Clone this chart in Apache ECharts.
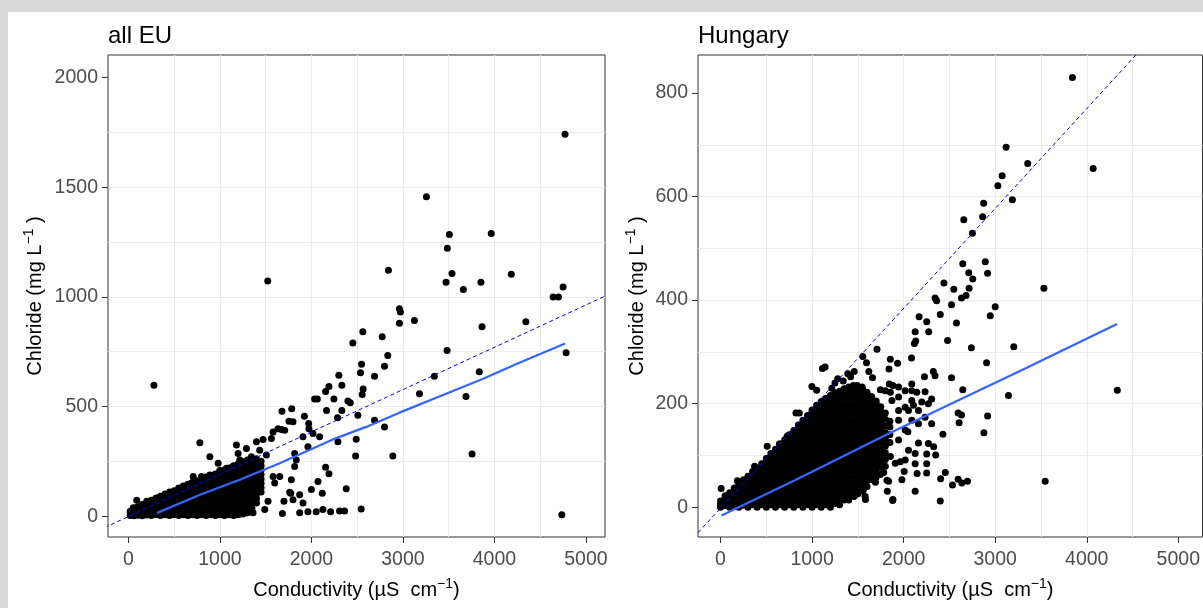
<!DOCTYPE html>
<html>
<head>
<meta charset="utf-8">
<script src="https://cdn.jsdelivr.net/npm/echarts@6/dist/echarts.min.js"></script>
<style>
  html, body { margin: 0; padding: 0; width: 1203px; height: 608px; overflow: hidden; background: #d9d9d9; }
  #chart { position: absolute; left: 8px; top: 12px; width: 1195px; height: 596px; background: #ffffff; }
</style>
</head>
<body>
<div id="chart"></div>
<script>
// ---- Panel titles and axis ticks ----
const panelTitles = ['all EU', 'Hungary'];
const xTicks = [0, 1000, 2000, 3000, 4000, 5000];
const euYTicks = [0, 500, 1000, 1500, 2000];
const huYTicks = [0, 200, 400, 600, 800];

// ---- all EU: individual sites away from the dense core [conductivity, chloride] ----
const euSites = [
  [4772,1741],[3257,1456],[3508,1284],[3486,1221],[3966,1289],[2842,1121],[4185,1103],[1523,1072],
  [3537,1106],[3472,1067],[3853,1067],[3661,1034],[4751,1045],[4642,999],[4700,999],
  [2962,946],[2973,931],[2962,880],[3126,892],[4344,886],[3865,864],[2562,841],[2453,790],[2774,818],
  [2835,733],[3483,755],[4784,745],[2548,693],[2537,654],[2799,683],[2690,638],[3344,638],[3835,659],
  [2300,643],[279,597],[2192,591],[2333,597],[2155,568],[2566,580],[2555,555],[3181,558],[3690,546],
  [2035,534],[2065,534],[2246,534],[2399,525],[2425,517],[2166,482],[2333,482],[2286,449],[2508,460],
  [2690,437],[2799,407],[1679,478],[1785,490],[1923,455],[1755,433],[1799,430],[1970,422],[1973,399],
  [1672,395],[2490,351],[2290,339],[2483,274],[2890,274],[3756,283],[4737,6],
  [781,335],[890,271],[2155,223],[2192,193],[2072,158],[2381,125],[2119,105],[2000,121],[1872,98],
  [2544,33],[2363,23],[2308,23],[2210,20],[2126,30],[2053,20],[1962,20],[1872,15],[1683,12],
  [1700,68],[1799,75],[1908,60],[1763,109],[1781,166],[1774,105],
  [1581,181],[1526,68],[1490,30],[1362,15],[1290,15],[1599,151],[1654,181],[1817,226],[1835,256],
  [1817,286],[1962,317],[2090,362],[2017,377],[1908,362],[1581,384],[1635,399],[1708,392],[1563,354],
  [1472,350],[1399,339],[1435,301],[1290,309],[1181,324],[1199,286],[1344,271],[1508,279],[1217,256],
  [1144,226],[1072,218],[981,241],[999,208],[890,188],[799,181],[708,181],[690,151],[581,128],
  [527,113],[418,98],[309,83],[200,68],[91,72],[53,38]
];

// ---- all EU: dense core, read column by column (conductivity -> chloride values) ----
const euCoreX = [20,60,100,150,200,250,300,350,400,450,500,550,600,650,700,750,800,850,900,950,
                 1000,1050,1100,1150,1200,1250,1300,1350,1400,1450];
const euCoreY = [
  [3,12,22],
  [2,12,23,33],
  [4,14,25,35,43],
  [2,13,24,35,45,53],
  [5,17,29,41,52,62],
  [3,15,27,39,51,62,72],
  [6,18,30,42,54,66,77,82],
  [3,16,29,42,55,68,81,91],
  [6,19,32,45,58,71,84,96,101],
  [3,17,31,45,59,73,87,100,110],
  [6,20,34,48,62,76,90,104,116],
  [3,18,33,48,63,78,93,108,121,128],
  [6,21,36,51,66,81,96,111,125,137],
  [3,19,35,51,67,83,99,115,130,145],
  [6,22,38,54,70,86,102,118,134,149,154],
  [3,20,37,54,71,88,105,122,139,155,162],
  [6,23,40,57,74,91,108,125,142,158,170],
  [3,21,39,57,75,93,111,129,147,165,178],
  [6,24,42,60,78,96,114,132,150,168,185],
  [3,22,41,60,79,98,117,136,155,174,192],
  [6,25,44,63,82,101,120,139,158,177,196,202],
  [3,23,43,63,83,103,123,143,163,183,203,210],
  [6,26,46,66,86,106,126,146,166,186,206,220],
  [3,23,43,63,83,103,123,143,163,183,203,223,230],
  [7,27,47,67,87,107,127,147,167,187,207,227,238],
  [10,30,50,70,90,110,130,150,170,190,210,230,248],
  [15,35,55,75,95,115,135,155,175,195,215,235,256],
  [35,55,75,95,115,135,155,175,195,215,235,255],
  [60,80,100,120,140,160,180,200,220,242,262],
  [110,130,150,170,190,210,230,250]
];

// ---- all EU: smoothed fit and reference line ----
const euFit = [[315,15],[783,98],[1217,166],[1654,241],[2235,350],[2599,407],[2962,472],
               [3472,558],[3871,625],[4235,693],[4773,787]];
const euRef = [[-400,-79],[5400,1040]];

// ---- Hungary: individual sites away from the dense core ----
const huSites = [
  [3843,830],[4070,654],[3119,695],[3355,664],[3076,640],[3029,621],[3188,594],[2874,587],[2657,555],
  [2863,561],[2751,529],[3532,423],[4334,226],[3546,50],[3203,310],[3145,216],[2906,279],[2740,308],
  [2646,227],[2917,176],[2877,144],[2892,474],[2917,452],[2711,453],[2646,470],[2755,441],[2715,423],
  [2548,421],[2440,433],[2682,409],[2632,404],[2343,404],[2360,399],[2523,391],[3000,387],[2946,370],
  [2400,372],[2577,356],[2169,368],[2252,358],[2126,339],[2274,339],[2480,322],[2132,321],[2118,316],
  [1709,305],[1554,291],[1594,279],[1855,286],[1934,278],[1840,267],[2086,288],[1113,268],[1142,271],
  [998,233],[1215,230],[1421,252],[2324,262],[2343,254],[2227,252],[2523,250],[2017,225],[1746,227],
  [1855,222],[2429,141],[2595,182],[2632,178],[2606,163],[2328,117],[2350,101],[2252,84],[2455,67],
  [2404,55],[2534,43],[2595,54],[2636,47],[2697,50],[2400,12],[2126,31],[2147,65],[2252,66],[2006,69],
  [1836,50],[1822,31],[1880,13],[1579,21],[1558,33],[1460,21],[2126,84],[2252,103],[2046,146],
  [2162,124],[1963,88],[1746,63],[1782,67],[1692,48],[7,36],[184,51],[372,79],[510,118],[643,122],
  [727,137],[824,182],[860,182],[1493,235],[1547,232],[1843,238],[1883,235],[2089,225],[2143,222],
  [2234,223],[2306,209],[2270,200],[2198,203],[2107,197],[2053,187],[1945,187],[1945,168],[2017,149],
  [2089,168],[2162,161],[2234,174],[2306,161],[2270,123],[2053,110],[1945,130],[1855,98],[1981,53],
  [1800,79],[1909,85],[2017,91],[2126,104],[1800,225],[1872,206],[1945,213],[2017,193],[2089,206],
  [2162,187],[1945,232],[2089,238],[1818,52],[1883,15],[1456,21],[1547,31],[1583,15],
  [1280,248],[1340,244],[1390,258],[1460,262],[1620,262],[1660,250],[1250,240],[1050,226]
];

// ---- Hungary: dense core, read column by column ----
const huCoreX = [0,50,100,150,200,250,300,350,400,450,500,550,600,650,700,750,800,850,900,950,
                 1000,1050,1100,1150,1200,1250,1300,1350,1400,1450,1500,1550,1600,1650,1700,1750,1800,1850];
const huCoreY = [
  [0,6,12],
  [3,10,17,22],
  [0,9,18,28],
  [4,13,22,31,37],
  [0,9,18,27,36,44],
  [4,15,25,35,45,53],
  [0,10,20,30,40,50,60],
  [5,15,25,35,45,55,64,69],
  [0,10,20,30,40,50,60,70,76],
  [5,15,25,35,45,55,65,75,84],
  [0,10,20,30,40,50,60,70,80,90,94],
  [5,15,25,36,47,58,69,80,90,99,104],
  [0,10,20,31,42,53,64,75,86,97,106,112],
  [5,16,27,38,49,60,71,82,93,104,115,122],
  [0,11,22,33,44,55,66,77,88,99,110,120,130],
  [5,16,27,38,49,60,71,82,93,104,115,126,135,140],
  [0,11,22,33,44,55,66,77,88,99,110,121,132,142,148],
  [5,16,27,38,49,60,71,82,93,104,115,126,137,147,155,159],
  [0,11,22,33,44,55,66,77,88,99,110,121,132,143,154,162,168],
  [5,16,27,38,49,60,71,82,93,104,115,126,137,148,159,169,177],
  [0,11,22,33,44,55,66,77,88,99,110,121,132,143,154,165,176,183,188],
  [5,16,27,38,49,60,71,82,93,104,115,126,137,148,159,170,181,191,197],
  [0,11,22,33,44,55,66,77,88,99,110,121,132,143,154,165,176,187,196,204],
  [5,16,27,38,49,60,71,82,93,104,115,126,137,148,159,170,181,192,202,210],
  [0,11,22,33,44,55,66,77,88,99,110,121,132,143,154,165,176,187,198,208,216],
  [7,18,29,40,51,62,73,84,95,106,117,128,139,150,161,172,183,194,205,215,221],
  [5,16,27,38,49,60,71,82,93,104,115,126,137,148,159,170,181,192,203,214,224],
  [14,25,36,47,58,69,80,91,102,113,124,135,146,157,168,179,190,201,212,222,229],
  [14,25,36,47,58,69,80,91,102,113,124,135,146,157,168,179,190,201,212,223,232],
  [25,36,47,58,69,80,91,102,113,124,135,146,157,168,179,190,201,212,222,230,235],
  [26,37,48,59,70,81,92,103,114,125,136,147,158,169,180,191,202,213,224,232],
  [37,48,59,70,81,92,103,114,125,136,147,158,169,180,191,202,213,222,229],
  [40,51,62,73,84,95,106,117,128,139,150,161,172,183,194,205,215,222],
  [53,64,75,86,97,108,119,130,141,152,163,174,185,196,207,214],
  [58,69,80,91,102,113,124,135,146,157,168,179,190,200,205],
  [77,89,101,113,125,137,149,161,173,185,194],
  [92,105,118,131,144,157,170,182],
  [125,140,155,166]
];

// ---- Hungary: smoothed fit and reference line ----
const huFit = [[11,-16],[824,53],[1800,139],[2306,182],[3282,264],[4331,354]];
const huRef = [[-400,-79],[5400,1040]];

// flatten column lists into [x, y] pairs
function columnsToPairs(xs, ys) {
  const out = [];
  xs.forEach((x, i) => ys[i].forEach(y => out.push([x, y])));
  return out;
}
const euPoints = columnsToPairs(euCoreX, euCoreY).concat(euSites);
const huPoints = columnsToPairs(huCoreX, huCoreY).concat(huSites);

const FONT = "'Liberation Sans', Arial, Helvetica, sans-serif";
const tickText = { color: '#4d4d4d', fontSize: 19.5, fontFamily: FONT, formatter: v => String(v) };
const nameStyle = {
  color: '#000', fontSize: 20, fontFamily: FONT, lineHeight: 26,
  rich: { sup: { fontSize: 14, lineHeight: 12, verticalAlign: 'top', fontFamily: FONT, color: '#000' } }
};
const gridLine = { show: true, lineStyle: { color: '#ebebeb', width: 1 }, showMinLine: false, showMaxLine: false };
const tickStyle = { color: '#333333', width: 1 };
const titleStyle = { fontSize: 24, fontWeight: 'normal', color: '#000', fontFamily: FONT };

function xAxisFor(gi, min, max) {
  return {
    type: 'value', gridIndex: gi, min: min, max: max,
    minInterval: 1000, maxInterval: 1000,
    axisLine: { show: false, onZero: false },
    axisTick: { show: true, length: 6, lineStyle: tickStyle, customValues: xTicks },
    axisLabel: Object.assign({ margin: 13, customValues: xTicks }, tickText),
    splitLine: gridLine,
    minorTick: { show: false, splitNumber: 2 },
    minorSplitLine: { show: true, lineStyle: { color: '#ebebeb', width: 1 } },
    name: 'Conductivity (µS  cm{sup|−1})',
    nameLocation: 'middle', nameGap: 40, nameTextStyle: nameStyle
  };
}
function yAxisFor(gi, min, max, step, ticks, gap) {
  return {
    type: 'value', gridIndex: gi, min: min, max: max,
    minInterval: step, maxInterval: step,
    axisLine: { show: false, onZero: false },
    axisTick: { show: true, length: 6, lineStyle: tickStyle, customValues: ticks },
    axisLabel: Object.assign({ margin: 10, customValues: ticks }, tickText),
    splitLine: gridLine,
    minorTick: { show: false, splitNumber: 2 },
    minorSplitLine: { show: true, lineStyle: { color: '#ebebeb', width: 1 } },
    name: 'Chloride (mg L{sup|−1} )',
    nameLocation: 'middle', nameGap: gap, nameTextStyle: nameStyle
  };
}

const dotStyle = { color: '#000', opacity: 1, borderWidth: 0 };

const chart = echarts.init(document.getElementById('chart'), null, { renderer: 'canvas' });
chart.setOption({
  animation: false,
  backgroundColor: '#ffffff',
  title: [
    { text: panelTitles[0], left: 100, top: 12, padding: 0, textStyle: titleStyle },
    { text: panelTitles[1], left: 690, top: 12, padding: 0, textStyle: titleStyle }
  ],
  grid: [
    { left: 100, top: 43, width: 497, height: 486, show: true, borderColor: '#333333', borderWidth: 1, backgroundColor: 'transparent' },
    { left: 690, top: 43, width: 508, height: 486, show: true, borderColor: '#333333', borderWidth: 1, backgroundColor: 'transparent' }
  ],
  xAxis: [ xAxisFor(0, -223, 5209), xAxisFor(1, -246, 5264) ],
  yAxis: [ yAxisFor(0, -95, 2102.6, 500, euYTicks, 60), yAxisFor(1, -57.5, 873.4, 200, huYTicks, 48) ],
  series: [
    { type: 'scatter', xAxisIndex: 0, yAxisIndex: 0, data: euPoints, symbolSize: 7,
      itemStyle: dotStyle, z: 2, silent: true, large: false },
    { type: 'line', xAxisIndex: 0, yAxisIndex: 0, data: euFit, showSymbol: false, z: 3, silent: true,
      lineStyle: { color: '#3366ff', width: 2.2, opacity: 1 } },
    { type: 'line', xAxisIndex: 0, yAxisIndex: 0, data: euRef, showSymbol: false, z: 4, silent: true, clip: true,
      lineStyle: { color: '#0000ff', width: 1, type: [4, 3], opacity: 1 } },
    { type: 'scatter', xAxisIndex: 1, yAxisIndex: 1, data: huPoints, symbolSize: 7,
      itemStyle: dotStyle, z: 2, silent: true, large: false },
    { type: 'line', xAxisIndex: 1, yAxisIndex: 1, data: huFit, showSymbol: false, z: 3, silent: true,
      lineStyle: { color: '#3366ff', width: 2.2, opacity: 1 } },
    { type: 'line', xAxisIndex: 1, yAxisIndex: 1, data: huRef, showSymbol: false, z: 4, silent: true, clip: true,
      lineStyle: { color: '#0000ff', width: 1, type: [4, 3], opacity: 1 } }
  ]
});
</script>
</body>
</html>
